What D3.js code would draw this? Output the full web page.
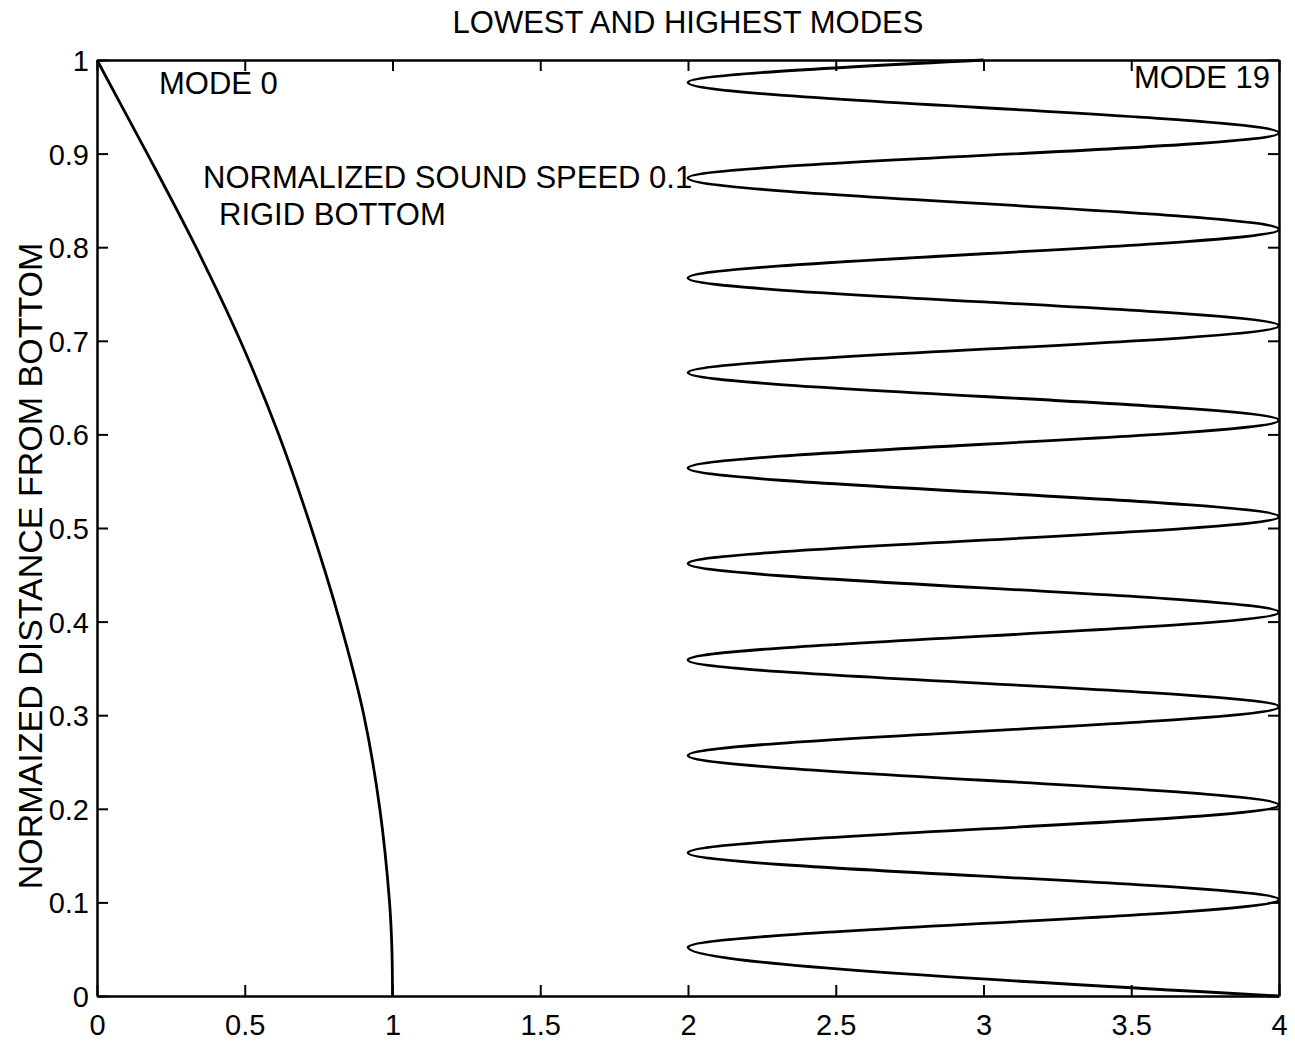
<!DOCTYPE html>
<html>
<head>
<meta charset="utf-8">
<script src="https://cdn.jsdelivr.net/npm/d3@7.9.0/dist/d3.min.js"></script>
<style>
  html, body { margin: 0; padding: 0; background: #fff; }
  svg text { font-family: "Liberation Sans", Arial, sans-serif; fill: #000; }
</style>
</head>
<body>
<svg id="chart" width="1295" height="1044"></svg>
<script>
// values
const mode0Y = [0, 0.05, 0.1, 0.2, 0.3, 0.4, 0.5, 0.6, 0.7, 0.8, 0.9, 0.95, 1];
const mode0X = [1.0, 0.998, 0.99, 0.957, 0.903, 0.822, 0.725, 0.615, 0.485, 0.335, 0.17, 0.085, 0];

// mode 19: turning points (alternating right/left edges), ending at the surface
const mode19Y = [0, 0.052, 0.103, 0.153, 0.204, 0.257, 0.309, 0.359, 0.41, 0.462,
                 0.512, 0.564, 0.615, 0.666, 0.716, 0.767, 0.819, 0.874, 0.922, 0.976, 1];
const mode19X = [4, 2, 4, 2, 4, 2, 4, 2, 4, 2,
                 4, 2, 4, 2, 4, 2, 4, 2, 4, 2, 3];

const xTicks = [0, 0.5, 1, 1.5, 2, 2.5, 3, 3.5, 4];
const yTicks = [0, 0.1, 0.2, 0.3, 0.4, 0.5, 0.6, 0.7, 0.8, 0.9, 1];

const svg = d3.select('#chart');
const plotL = 97, plotR = 1279, plotT = 60, plotB = 996;

const x = d3.scaleLinear().domain([0, 4]).range([plotL, plotR]);
const y = d3.scaleLinear().domain([0, 1]).range([plotB, plotT]);

const mode0 = mode0Y.map((v, i) => [mode0X[i], v]);
const mode19 = mode19Y.map((v, i) => [mode19X[i], v]);

const smoothLine = d3.line()
    .x((d) => x(d[0]))
    .y((d) => y(d[1]))
    .curve(d3.curveCatmullRom.alpha(0.5));

// turning points need a vertical tangent, monotone in y gives that
const waveLine = d3.line()
    .x((d) => x(d[0]))
    .y((d) => y(d[1]))
    .curve(d3.curveMonotoneY);

svg.append('path')
    .attr('d', smoothLine(mode0))
    .attr('fill', 'none')
    .attr('stroke', '#000')
    .attr('stroke-width', 2.8);

svg.append('path')
    .attr('d', waveLine(mode19))
    .attr('fill', 'none')
    .attr('stroke', '#000')
    .attr('stroke-width', 2.8);

// box with inward ticks on all sides (matlab style)
const tickLen = 11;
const addAxis = (axisFn, scale, ticks, translate, fmt) => {
    const g = svg.append('g')
        .attr('transform', translate)
        .call(axisFn(scale).tickValues(ticks).tickSizeInner(-tickLen).tickSizeOuter(0).tickFormat(fmt)
            .tickPadding(tickLen + 10));
    g.select('.domain').attr('stroke', '#000').attr('stroke-width', 2.5);
    g.selectAll('.tick line').attr('stroke', '#000').attr('stroke-width', 2);
    g.selectAll('text').attr('font-size', 29).style('font-family', '"Liberation Sans", Arial, sans-serif');
    return g;
};

const bottomAx = addAxis(d3.axisBottom, x, xTicks, `translate(0,${plotB})`, d3.format(''));
bottomAx.selectAll('text').attr('dy', '0.62em');
addAxis(d3.axisTop, x, xTicks, `translate(0,${plotT})`, () => '');
const leftAx = addAxis(d3.axisLeft, y, yTicks, `translate(${plotL},0)`, d3.format(''));
leftAx.selectAll('text').attr('x', -8).attr('dy', '0.36em');
addAxis(d3.axisRight, y, yTicks, `translate(${plotR},0)`, () => '');

// title and labels
svg.append('text')
    .attr('x', (plotL + plotR) / 2)
    .attr('y', 33)
    .attr('text-anchor', 'middle')
    .attr('font-size', 31)
    .text('LOWEST AND HIGHEST MODES');

svg.append('text')
    .attr('transform', 'translate(42,566) rotate(-90)')
    .attr('text-anchor', 'middle')
    .attr('font-size', 34)
    .text('NORMAIZED DISTANCE FROM BOTTOM');

svg.append('text')
    .attr('x', 159).attr('y', 94)
    .attr('font-size', 31)
    .text('MODE 0');

svg.append('text')
    .attr('x', 1270).attr('y', 88)
    .attr('text-anchor', 'end')
    .attr('font-size', 31)
    .text('MODE 19');

svg.append('text')
    .attr('x', 203).attr('y', 188)
    .attr('font-size', 31)
    .text('NORMALIZED SOUND SPEED 0.1');

svg.append('text')
    .attr('x', 219).attr('y', 225)
    .attr('font-size', 31)
    .text('RIGID BOTTOM');
</script>
</body>
</html>
